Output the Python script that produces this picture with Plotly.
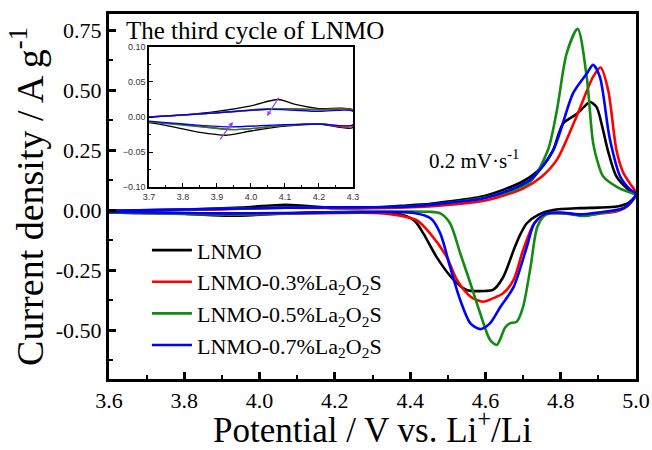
import plotly.graph_objects as go

# ---------------- main CV data (potential V, current density A/g) ----------------
names = ["LNMO", "LNMO-0.3%La<sub>2</sub>O<sub>2</sub>S",
         "LNMO-0.5%La<sub>2</sub>O<sub>2</sub>S", "LNMO-0.7%La<sub>2</sub>O<sub>2</sub>S"]
colors = ["#000000", "#ff0000", "#138a13", "#0000ff"]

V_black = [3.6, 3.8, 3.95, 4.07, 4.2, 4.3, 4.4, 4.45, 4.5, 4.6, 4.7, 4.75, 4.78, 4.806, 4.842, 4.862, 4.878, 4.895, 4.91, 4.925, 4.948, 4.98, 5.0,
           4.98, 4.95, 4.9, 4.85, 4.78, 4.74, 4.71, 4.69, 4.675, 4.647, 4.62, 4.6, 4.55, 4.515, 4.47, 4.435, 4.41, 4.365, 4.3, 4.1, 3.92, 3.8, 3.6]
I_black = [-0.003, 0.002, 0.01, 0.022, 0.008, 0.01, 0.02, 0.025, 0.035, 0.06, 0.12, 0.18, 0.25, 0.36, 0.40, 0.43, 0.45, 0.43, 0.35, 0.25, 0.14, 0.085, 0.065,
           0.03, 0.015, 0.01, 0.008, 0.0, -0.02, -0.055, -0.11, -0.167, -0.28, -0.333, -0.337, -0.333, -0.29, -0.195, -0.097, -0.042, -0.014, -0.008, -0.012, -0.024, -0.015, -0.01]

V_red = [3.6, 3.9, 4.07, 4.3, 4.45, 4.6, 4.7, 4.75, 4.79, 4.842, 4.886, 4.906, 4.926, 4.948, 4.965, 4.984, 5.0,
         4.98, 4.95, 4.9, 4.86, 4.82, 4.763, 4.73, 4.70, 4.675, 4.647, 4.62, 4.594, 4.56, 4.524, 4.497, 4.453, 4.417, 4.365, 4.3, 3.95, 3.6]
I_red = [-0.003, 0.003, 0.01, 0.008, 0.015, 0.04, 0.09, 0.14, 0.21, 0.39, 0.555, 0.594, 0.5, 0.25, 0.16, 0.11, 0.07,
         0.02, -0.005, -0.015, -0.022, -0.016, -0.014, -0.055, -0.167, -0.29, -0.347, -0.368, -0.382, -0.36, -0.29, -0.195, -0.097, -0.042, -0.021, -0.012, -0.018, -0.01]

V_green = [3.6, 4.07, 4.4, 4.55, 4.65, 4.72, 4.766, 4.79, 4.816, 4.845, 4.869, 4.886, 4.9, 4.913, 4.95, 4.99, 5.0,
           4.97, 4.9, 4.86, 4.82, 4.76, 4.738, 4.72, 4.70, 4.683, 4.665, 4.652, 4.64, 4.63, 4.612, 4.586, 4.56, 4.533, 4.506, 4.48, 4.45, 4.2, 3.95, 3.6]
I_green = [-0.003, 0.01, 0.015, 0.04, 0.07, 0.12, 0.25, 0.417, 0.654, 0.755, 0.555, 0.28, 0.19, 0.14, 0.096, 0.07, 0.065,
           0.01, -0.015, -0.025, -0.015, -0.02, -0.07, -0.236, -0.403, -0.465, -0.472, -0.49, -0.535, -0.5625, -0.54, -0.43, -0.305, -0.18, -0.055, -0.014, -0.007, -0.01, -0.018, -0.01]

V_blue = [3.6, 4.07, 4.4, 4.5, 4.6, 4.718, 4.78, 4.833, 4.87, 4.886, 4.904, 4.93, 4.958, 4.985, 5.0,
          4.97, 4.9, 4.85, 4.8, 4.76, 4.73, 4.71, 4.675, 4.64, 4.612, 4.586, 4.56, 4.533, 4.506, 4.48, 4.455, 4.41, 4.2, 3.93, 3.6]
I_blue = [-0.003, 0.01, 0.015, 0.03, 0.05, 0.125, 0.25, 0.487, 0.57, 0.605, 0.555, 0.30, 0.14, 0.085, 0.068,
          0.01, -0.01, -0.018, -0.01, -0.015, -0.055, -0.153, -0.32, -0.403, -0.472, -0.496, -0.472, -0.375, -0.236, -0.097, -0.035, -0.012, -0.01, -0.014, -0.008]

# ---------------- inset: third cycle, 3.7-4.3 V ----------------
Vi_black = [3.7, 3.8, 3.9, 4.0, 4.08, 4.13, 4.2, 4.3, 4.3, 4.2, 4.1, 4.0, 3.93, 3.85, 3.75, 3.7]
Ii_black = [0.0, 0.003, 0.008, 0.016, 0.025, 0.018, 0.012, 0.01, -0.015, -0.01, -0.013, -0.02, -0.026, -0.022, -0.012, -0.008]
Vi_red = [3.7, 3.9, 4.05, 4.1, 4.2, 4.3, 4.3, 4.2, 4.1, 3.95, 3.85, 3.7]
Ii_red = [0.0, 0.006, 0.011, 0.012, 0.011, 0.01, -0.013, -0.01, -0.012, -0.018, -0.013, -0.007]
Vi_green = [3.7, 3.9, 4.05, 4.2, 4.3, 4.3, 4.2, 4.1, 3.95, 3.85, 3.7]
Ii_green = [0.0, 0.006, 0.012, 0.01, 0.009, -0.011, -0.01, -0.012, -0.018, -0.014, -0.007]
Vi_blue = [3.7, 3.9, 4.05, 4.2, 4.3, 4.3, 4.2, 4.1, 3.93, 3.8, 3.7]
Ii_blue = [0.0, 0.006, 0.011, 0.008, 0.008, -0.011, -0.01, -0.011, -0.014, -0.01, -0.006]

main_V = [V_black, V_red, V_green, V_blue]
main_I = [I_black, I_red, I_green, I_blue]
ins_V = [Vi_black, Vi_red, Vi_green, Vi_blue]
ins_I = [Ii_black, Ii_red, Ii_green, Ii_blue]

x_ticks = [3.6, 3.8, 4.0, 4.2, 4.4, 4.6, 4.8, 5.0]
y_ticks = [-0.50, -0.25, 0.00, 0.25, 0.50, 0.75]

SERIF = "Liberation Serif, Times New Roman, serif"

fig = go.Figure()
for k in range(4):
    fig.add_trace(go.Scatter(x=main_V[k], y=main_I[k], mode="lines", name=names[k],
                             line=dict(color=colors[k], width=2.6, shape="spline", smoothing=0.8),
                             legendgroup=str(k)))
for k in range(4):
    fig.add_trace(go.Scatter(x=ins_V[k], y=ins_I[k], mode="lines", showlegend=False,
                             line=dict(color=colors[k], width=1.3, shape="spline", smoothing=0.8),
                             xaxis="x2", yaxis="y2"))

axis_common = dict(showline=True, linecolor="black", mirror=True, showgrid=False, zeroline=False,
                   automargin=False)

fig.update_layout(
    width=652, height=450,
    margin=dict(l=109, r=16, t=14, b=71, autoexpand=False),
    plot_bgcolor="white", paper_bgcolor="white",
    font=dict(family=SERIF, color="black"),
    xaxis=dict(range=[3.6, 5.0], tickvals=x_ticks, ticktext=[f"{v:.1f}" for v in x_ticks],
               ticks="inside", ticklen=7, tickwidth=2.5, tickcolor="black",
               minor=dict(dtick=0.1, ticks="inside", ticklen=4, tickwidth=2, tickcolor="black"),
               linewidth=3, tickfont=dict(size=22, family=SERIF),
               title=dict(text="Potential / V vs. Li<sup>+</sup>/Li", font=dict(size=35, family=SERIF), standoff=4),
               **axis_common),
    yaxis=dict(range=[-0.704, 0.817], tickvals=y_ticks, ticktext=[f"{v:.2f}" for v in y_ticks],
               ticks="inside", ticklen=7, tickwidth=2.5, tickcolor="black",
               minor=dict(dtick=0.125, tick0=0, ticks="inside", ticklen=4, tickwidth=2, tickcolor="black"),
               linewidth=3, tickfont=dict(size=22, family=SERIF),
               title=dict(text="Current density / A g<sup>-1</sup>", font=dict(size=38, family=SERIF), standoff=1),
               **axis_common),
    xaxis2=dict(domain=[0.0759, 0.463], anchor="y2", range=[3.7, 4.3], dtick=0.1, tickformat=".1f",
                ticks="inside", ticklen=4, tickwidth=1, tickcolor="black",
                minor=dict(dtick=0.05, ticks="inside", ticklen=2, tickwidth=1, tickcolor="black"),
                linewidth=1.5, tickfont=dict(size=9, family="Liberation Sans, Arial", color="#333"),
                **axis_common),
    yaxis2=dict(domain=[0.526, 0.9096], anchor="x2", range=[-0.10, 0.10], dtick=0.05, tickformat=".2f",
                ticks="inside", ticklen=4, tickwidth=1, tickcolor="black",
                minor=dict(dtick=0.025, ticks="inside", ticklen=2, tickwidth=1, tickcolor="black"),
                linewidth=1.5, tickfont=dict(size=9, family="Liberation Sans, Arial", color="#333"),
                **axis_common),
    legend=dict(x=0.072, y=0.41, xanchor="left", yanchor="top", bgcolor="rgba(0,0,0,0)",
                font=dict(size=22, family=SERIF), tracegroupgap=0, itemwidth=40),
    showlegend=True,
)

fig.add_annotation(text="The third cycle of LNMO", xref="paper", yref="paper", x=0.277, y=0.956,
                   xanchor="center", yanchor="middle", showarrow=False, font=dict(size=25, family=SERIF))
fig.add_annotation(text="0.2 mV·s<sup>-1</sup>", xref="x", yref="y", x=4.445, y=0.21,
                   xanchor="left", yanchor="middle", showarrow=False, font=dict(size=21, family=SERIF))

# purple arrows in the inset
fig.add_annotation(xref="x2", yref="y2", axref="x2", ayref="y2", x=3.947, y=-0.007, ax=3.906, ay=-0.034,
                   showarrow=True, arrowhead=2, arrowsize=0.8, arrowwidth=1.2, arrowcolor="#9a3cff", text="")
fig.add_annotation(xref="x2", yref="y2", axref="x2", ayref="y2", x=4.047, y=0.0014, ax=4.085, ay=0.03,
                   showarrow=True, arrowhead=2, arrowsize=0.8, arrowwidth=1.2, arrowcolor="#9a3cff", text="")

fig.write_html("out.html")
